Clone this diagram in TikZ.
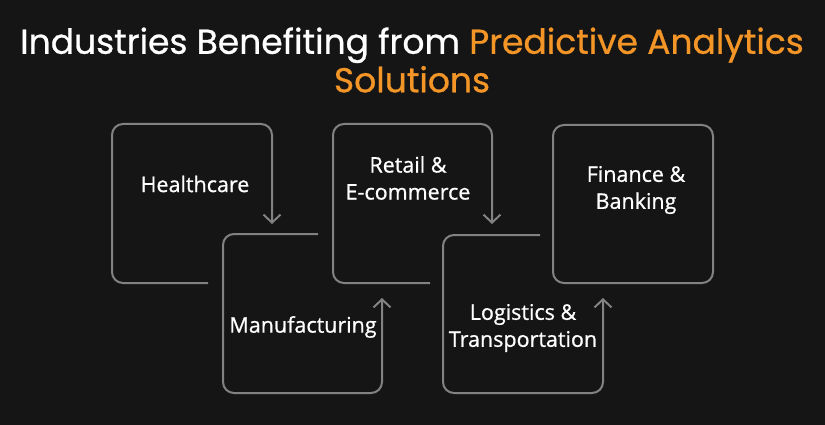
\documentclass[tikz,border=0pt]{standalone}
\usepackage{fontspec}
\setmainfont{Open Sans}[UprightFeatures={FakeBold=0.8}]
\newfontfamily\titlefont{Poppins}[UprightFeatures={FakeBold=0.8}]
\usetikzlibrary{arrows.meta,positioning}
\definecolor{bgdark}{HTML}{151515}
\definecolor{accent}{HTML}{F39527}
\definecolor{linegray}{HTML}{828282}

\begin{document}
\begin{tikzpicture}[
    x=1pt, y=-1pt,
    frame/.style={draw=linegray, line width=2pt, rounded corners=11pt},
    flow/.style={frame, -{Straight Barb[length=8pt, width=17pt, line width=2pt]}},
    industry/.style={text=white, align=center, font=\fontsize{21.5}{27}\selectfont},
    heading/.style={text=white, align=center, font=\titlefont\fontsize{34.5}{38.5}\selectfont}
]

% Background
\fill[bgdark] (0,0) rectangle (825,425);
\useasboundingbox (0,0) rectangle (825,425);

% Title
\node[heading] (title) at (412,60) {Industries Benefiting from \textcolor{accent}{Predictive Analytics}\\\textcolor{accent}{Solutions}};

% Corner points of the open frames
\coordinate (health_end) at (208,283);
\coordinate (manuf_end) at (318,234);
\coordinate (retail_end) at (430,283);
\coordinate (logist_end) at (540,235);

% Industry labels
\node[industry] (health) at (195,184) {Healthcare};
\node[industry] (manuf) at (303,327) {Manufacturing};
\node[industry] (retail) at (408,178) {Retail \&\\E-commerce};
\node[industry] (logist) at (523,328) {Logistics \&\\Transportation};
\node[industry] (finance) at (636,190) {Finance \&\\Banking};

% Frames, each one turning into an arrow towards the next
\draw[flow] (health_end) -- (112,283) -- (112,124) -- (272,124) -- (272,224);
\draw[flow] (manuf_end) -- (223,234) -- (223,393) -- (382,393) -- (382,298);
\draw[flow] (retail_end) -- (333,283) -- (333,124) -- (492,124) -- (492,224);
\draw[flow] (logist_end) -- (443,235) -- (443,393) -- (603,393) -- (603,298);
\draw[frame] (553,125) rectangle (713,283);

\end{tikzpicture}
\end{document}
